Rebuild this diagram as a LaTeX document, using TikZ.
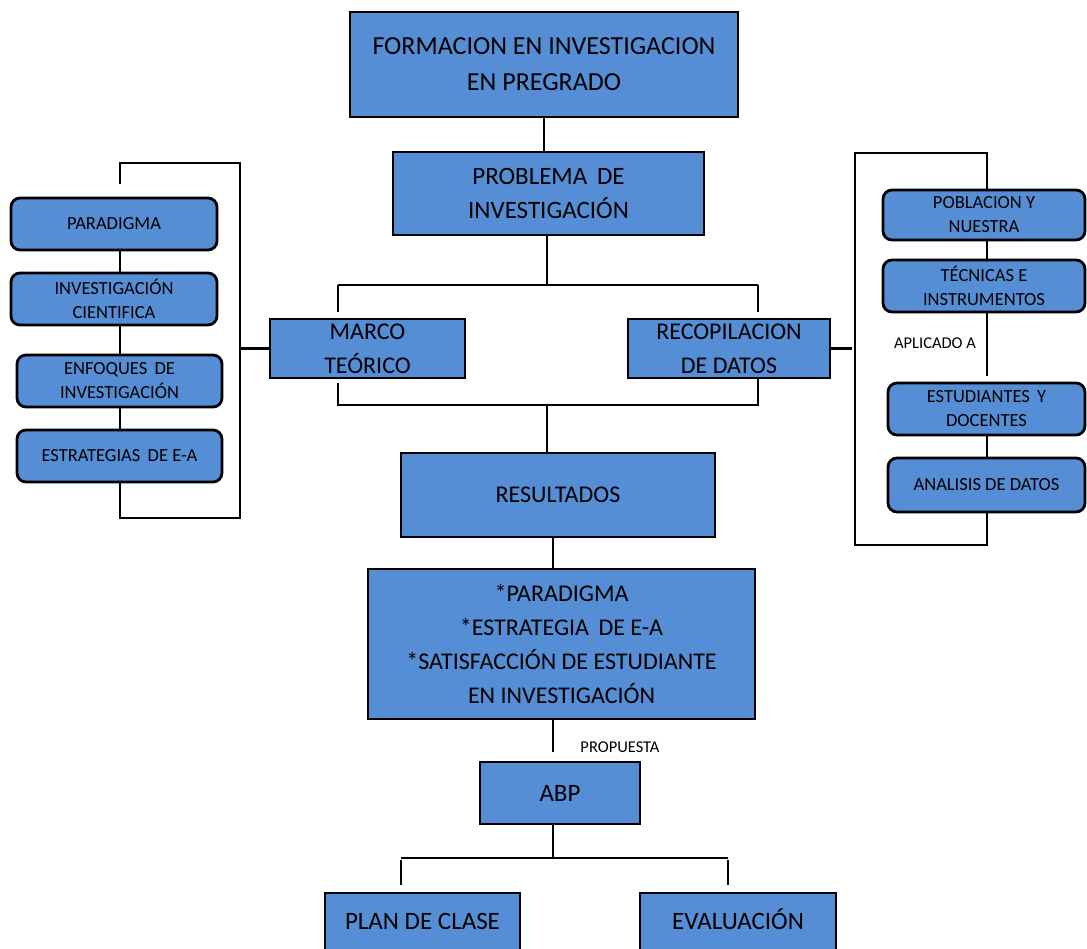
\documentclass[tikz,border=0pt]{standalone}
\usepackage{fontspec}
\setmainfont{Carlito}
\usepackage{tikz}
\usetikzlibrary{calc}
\definecolor{boxblue}{RGB}{85,142,213}

\begin{document}
\begin{tikzpicture}[x=1pt,y=-1pt,line width=2.5pt,align=center,
        box/.style={draw=black,line width=2.8pt,fill=boxblue,inner sep=0pt,text=black,
                    font=\fontsize{24}{34}\selectfont},
        side/.style={box,rounded corners=9pt,font=\fontsize{18.5}{24}\selectfont},
        foot/.style={box,minimum height=60pt,text height=17pt,text depth=5pt,font=\fontsize{25}{34}\selectfont},
        lbl/.style={inner sep=0pt,text=black,font=\fontsize{16.5}{20}\selectfont}]
        \useasboundingbox (0,0) rectangle (1087,949);
        \clip (0,0) rectangle (1087,949);

        \node[box,minimum width=388pt,minimum height=105pt,font=\fontsize{26}{36}\selectfont] (form) at (544,64.5) {FORMACION EN INVESTIGACION\\EN PREGRADO};
        \node[box,minimum width=311pt,minimum height=83pt,font=\fontsize{25}{34}\selectfont] (prob) at (548.5,193.5) {PROBLEMA \,DE\\INVESTIGACIÓN};
        \node[box,minimum width=195pt,minimum height=59pt] (marco) at (367.5,348.5) {MARCO\\TEÓRICO};
        \node[box,minimum width=202pt,minimum height=59pt] (recop) at (729,348.5) {RECOPILACION\\DE DATOS};
        \node[box,minimum width=314pt,minimum height=84pt] (res) at (558,495) {RESULTADOS};
        \node[box,minimum width=387pt,minimum height=150pt] (sint) at (561.5,644) {*PARADIGMA\\*ESTRATEGIA \,DE E-A\\*SATISFACCIÓN DE ESTUDIANTE\\EN INVESTIGACIÓN};
        \node[box,minimum width=160pt,minimum height=62pt,font=\fontsize{25}{34}\selectfont] (abp) at (560,793) {ABP};
        \node[foot,minimum width=195pt] (plan) at (422.5,923) {PLAN DE CLASE};
        \node[foot,minimum width=196pt] (eval) at (738,923) {EVALUACIÓN};

        \node[side,minimum width=206pt,minimum height=52pt] (l1) at (114,224) {PARADIGMA};
        \node[side,minimum width=206pt,minimum height=52pt] (l2) at (114,299) {INVESTIGACIÓN\\CIENTIFICA};
        \node[side,minimum width=205pt,minimum height=52pt] (l3) at (119.5,381) {ENFOQUES \,DE\\INVESTIGACIÓN};
        \node[side,minimum width=205pt,minimum height=52pt] (l4) at (119.5,456) {ESTRATEGIAS \,DE E-A};

        \node[side,minimum width=202pt,minimum height=50pt] (r1) at (984,215) {POBLACION Y\\NUESTRA};
        \node[side,minimum width=202pt,minimum height=52pt] (r2) at (984,286) {TÉCNICAS E\\INSTRUMENTOS};
        \node[side,minimum width=197pt,minimum height=52pt] (r3) at (986.5,409) {ESTUDIANTES \,Y\\DOCENTES};
        \node[side,minimum width=197pt,minimum height=54pt] (r4) at (986.5,485) {ANALISIS DE DATOS};

        \node[lbl] (apl) at (935,343) {APLICADO A};
        \node[lbl] (prop) at (620,747) {PROPUESTA};

        \coordinate (axis) at (553,0);
        \coordinate (ja) at (338,285);
        \coordinate (jb) at (758,285);
        \coordinate (jc) at (338,405);
        \coordinate (jd) at (758,405);
        \coordinate (je) at (547,405);
        \coordinate (jf) at (401,858);
        \coordinate (jg) at (728,858);
        \coordinate (lx) at (120,0);
        \coordinate (lt) at (240,163);
        \coordinate (lb) at (240,518);
        \coordinate (rx) at (987,0);
        \coordinate (rt) at (855,153);
        \coordinate (rb) at (855,545);

        \draw (form.south) -- (form.south |- prob.north);
        \draw (prob.south -| je) -- (je |- ja);
        \draw (ja) -- (jb);
        \draw[shorten >=6pt] (ja) -- (ja |- marco.north);
        \draw[shorten >=6pt] (jb) -- (jb |- recop.north);
        \draw[shorten <=4pt] (jc |- marco.south) -- (jc) -- (jd) -- (jd |- recop.south);
        \draw (je) -- (je |- res.north);
        \draw (res.south -| axis) -- (sint.north -| axis);
        \draw[shorten >=9pt] (sint.south -| axis) -- (abp.north -| axis);
        \draw (abp.south -| axis) -- (axis |- jf);
        \draw (jf) -- (jg);
        \draw[shorten <=2pt,shorten >=7pt] (jf) -- (jf |- plan.north);
        \draw[shorten <=2pt,shorten >=7pt] (jg) -- (jg |- eval.north);

        \draw[shorten <=13pt] (lx |- l1.north) -- (lx |- lt) -- (lt) -- (lb) -- (lx |- lb) -- (lx |- l4.south);
        \draw (lx |- l1.south) -- (lx |- l2.north);
        \draw (lx |- l2.south) -- (lx |- l3.north);
        \draw (lx |- l3.south) -- (lx |- l4.north);
        \draw (marco.west) -- (marco.west -| lt);

        \draw (rx |- r1.north) -- (rx |- rt) -- (rt) -- (rb) -- (rx |- rb) -- (rx |- r4.south);
        \draw (rx |- r1.south) -- (rx |- r2.north);
        \draw[shorten >=6pt] (rx |- r2.south) -- (rx |- r3.north);
        \draw (rx |- r3.south) -- (rx |- r4.north);
        \draw[shorten >=3pt] (recop.east) -- (recop.east -| rt);
\end{tikzpicture}
\end{document}
